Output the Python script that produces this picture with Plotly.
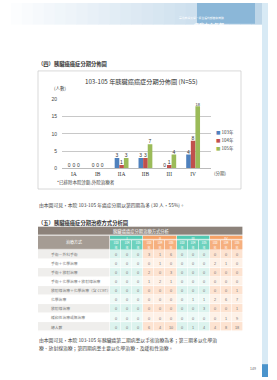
import plotly.graph_objects as go

W, H = 277, 380
def px(x): return x / W
def py(y): return 1 - y / H

FONT = "Noto Sans CJK TC"

# ---------------- chart data ----------------
stages = ["IA", "IB", "IIA", "IIB", "III", "IV"]
series_names = ["103年", "104年", "105年"]
v103 = [0, 0, 3, 3, 0, 4]
v104 = [0, 0, 1, 3, 1, 8]
v105 = [0, 0, 3, 7, 4, 18]
series_colors = ["#4F81BD", "#C0504D", "#9BBB59"]
yticks = [0, 5, 10, 15, 20]

# ---------------- table data ----------------
table_title = "胰臟癌癌症分期治療方式分析"
table_corner = "治療方式"
treatments = ["手術－外科手術", "手術＋化學治療", "手術＋放射治療",
              "手術＋化學治療＋放射線治療", "放射線治療＋化學治療（含 CCRT）",
              "化學治療", "放射線治療", "緩和性治療或無治療", "總人數"]
table_stages = ["I", "II", "III", "IV"]
table_years = ["103<br>年", "104<br>年", "105<br>年"]
row_surgery = [0, 0, 0, 3, 1, 6, 0, 0, 0, 0, 0, 0]
row_surg_chemo = [0, 0, 0, 0, 1, 0, 0, 0, 0, 2, 1, 0]
row_surg_rt = [0, 0, 0, 2, 0, 3, 0, 0, 0, 0, 0, 0]
row_surg_chemo_rt = [0, 0, 0, 1, 2, 1, 0, 0, 0, 0, 0, 0]
row_rt_chemo = [0, 0, 0, 0, 0, 0, 0, 0, 0, 0, 0, 1]
row_chemo = [0, 0, 0, 0, 0, 0, 0, 1, 1, 2, 6, 7]
row_rt = [0, 0, 0, 0, 0, 0, 0, 0, 3, 0, 0, 1]
row_palliative = [0, 0, 0, 0, 0, 0, 0, 0, 0, 0, 1, 9]
row_total = [0, 0, 0, 6, 4, 10, 0, 1, 4, 4, 8, 18]
table_rows = [row_surgery, row_surg_chemo, row_surg_rt, row_surg_chemo_rt,
              row_rt_chemo, row_chemo, row_rt, row_palliative, row_total]

fig = go.Figure()

# ---------------- bars ----------------
for name, vals, col in zip(series_names, [v103, v104, v105], series_colors):
    fig.add_trace(go.Bar(
        x=stages, y=vals, name=name, marker=dict(color=col, line=dict(width=0)),
        text=vals, textposition="outside", cliponaxis=False,
        textfont=dict(size=5, color="#333", family="Liberation Sans"),
        showlegend=False))

# ---------------- table (heatmap cells on their own axes, px units) ----------------
TX0, TX1 = 38, 243
TW = TX1 - TX0
LABW = 72
colw = (TW - LABW) / 12
T_TOP, T_BOT = 227, 336
ROW_H = 9.2
ROW0 = 251

palette = ["#8c827a", "#a59c94", "#52c9b2", "#f5a165", "#6dd2be", "#f6b07f",
           "#dcf3ee", "#fde3d1", "#eefaf7", "#fef1e7", "#efeeec", "#ffffff"]
K = len(palette) - 1
cscale = [[i / K, c] for i, c in enumerate(palette)]
stage_code = [2, 3, 2, 3]
year_code = [4, 5, 4, 5]
tint_a = [6, 7, 6, 7]
tint_b = [8, 9, 8, 9]

def cells(z, text, x0, dx, y0, dy, tcolor, tsize, family=FONT):
    fig.add_trace(go.Heatmap(
        z=z, text=text, texttemplate="%{text}", x0=x0, dx=dx, y0=y0, dy=dy,
        colorscale=cscale, zmin=0, zmax=K, showscale=False, xgap=0.6, ygap=0.6,
        textfont=dict(size=tsize, color=tcolor, family=family),
        hoverinfo="skip", xaxis="x2", yaxis="y2"))

n_rows = len(table_rows)
cells([[0]], [[table_title]], TW / 2, TW, T_TOP + 4.75, 9.5, "white", 4.3)
cells([[1]], [[table_corner]], LABW / 2, LABW, 243.75, 14.5, "white", 4)
cells([stage_code], [table_stages], LABW + 1.5 * colw, 3 * colw, 238.75, 4.5, "white", 3.6,
      "Liberation Sans")
cells([[year_code[c // 3] for c in range(12)]], [[table_years[c % 3] for c in range(12)]],
      LABW + colw / 2, colw, 246, 10, "white", 3.1)
cells([[10] if r % 2 == 0 else [11] for r in range(n_rows)], [[""] for r in range(n_rows)],
      LABW / 2, LABW, ROW0 + ROW_H / 2, ROW_H, "#777", 3.8)
cells([[tint_a[c // 3] if r % 2 == 0 else tint_b[c // 3] for c in range(12)] for r in range(n_rows)],
      [[str(v) for v in row] for row in table_rows],
      LABW + colw / 2, colw, ROW0 + ROW_H / 2, ROW_H, "#777", 3.8, "Liberation Sans")

fig.update_layout(
    width=W, height=H, margin=dict(l=0, r=0, t=0, b=0),
    paper_bgcolor="white", plot_bgcolor="rgba(0,0,0,0)",
    barmode="group", bargap=0.42, bargroupgap=0,
    xaxis=dict(domain=[px(62), px(211)], range=[-0.5, 5.75],
               showgrid=False, zeroline=False, showline=True,
               linecolor="#bbb", linewidth=0.6, ticks="",
               tickfont=dict(size=5.5, family="Liberation Serif", color="#333")),
    yaxis=dict(domain=[py(168), py(98)], range=[0, 20], tickvals=yticks,
               showgrid=True, gridcolor="#c8c8c8", gridwidth=0.6,
               zeroline=False, showline=False, ticks="",
               tickfont=dict(size=5, family="Liberation Sans", color="#444"),
               ticklabelstandoff=4),
    xaxis2=dict(domain=[px(TX0), px(TX1)], range=[0, TW], visible=False, fixedrange=True),
    yaxis2=dict(domain=[py(T_BOT), py(T_TOP)], range=[T_BOT, T_TOP], visible=False, fixedrange=True),
    font=dict(family=FONT),
)

shapes = []
ann = []

# ---------------- page decoration ----------------
n = 24
for i in range(n):
    t = i / (n - 1)
    r = int(255 - t * (255 - 190))
    g = int(255 - t * (255 - 214))
    b = int(255 - t * (255 - 232))
    shapes.append(dict(type="rect", xref="paper", yref="paper",
                       x0=px(i * 262 / n), x1=px((i + 1) * 262 / n + 0.5),
                       y0=py(22), y1=py(0), fillcolor=f"rgb({r},{g},{b})",
                       line=dict(width=0), layer="below"))
shapes.append(dict(type="rect", xref="paper", yref="paper", x0=px(197), x1=px(255),
                   y0=py(21), y1=py(0), fillcolor="#8bb7d8", line=dict(width=0), layer="below"))
shapes.append(dict(type="rect", xref="paper", yref="paper", x0=px(262), x1=px(268),
                   y0=0, y1=1, fillcolor="#d8eaf5", line=dict(width=0), layer="below"))
shapes.append(dict(type="rect", xref="paper", yref="paper", x0=px(262), x1=px(268),
                   y0=py(380), y1=py(367), fillcolor="#4a94cc", line=dict(width=0), layer="below"))
ann.append(dict(text="臺北醫學大學‧衛生福利部雙和醫院", x=px(226), y=py(11), xref="paper", yref="paper",
                showarrow=False, font=dict(size=2.8, color="white", family=FONT)))
ann.append(dict(text="<b>癌症中心年報</b>", x=px(226), y=py(16.5), xref="paper", yref="paper",
                showarrow=False, font=dict(size=5, color="white", family=FONT)))

shapes.append(dict(type="rect", xref="paper", yref="paper", x0=px(38), x1=px(241),
                   y0=py(189), y1=py(69), line=dict(color="#c9c9c9", width=0.7),
                   fillcolor="rgba(0,0,0,0)", layer="below"))

def text(s, x, y, size, color="#333", anchor="left", bold=False, family=FONT):
    ann.append(dict(text=(f"<b>{s}</b>" if bold else s), x=px(x), y=py(y),
                    xref="paper", yref="paper", showarrow=False,
                    xanchor=anchor, yanchor="middle",
                    font=dict(size=size, color=color, family=family)))

text("（四）胰臟癌癌症分期分佈圖", 36, 62, 5.3, "#333", bold=True)
text("103-105 年胰臟癌癌症分期分佈圖 (N=55)", 141, 80, 6.2, "#333", "center")
text("(人數)", 52, 86.5, 4.5, "#444")
text("(分期)", 212, 173, 4.5, "#444")
text("*已排除本院診斷,外院治療者", 55, 182, 4.5, "#444")

for i, (name, col) in enumerate(zip(series_names, series_colors)):
    yy = 132 + i * 8
    text(f"<span style='color:{col}'>■</span> {name}", 214, yy, 4.5, "#444")

text("由本圖可見，本院 103-105 年癌症分期以第四期為多 (30 人，55%)。", 37, 205, 4.8, "#444")
text("（五）胰臟癌癌症分期治療方式分析圖", 36, 224, 5.3, "#333", bold=True)

for r, lab in enumerate(treatments):
    ann.append(dict(text=lab, x=11, y=ROW0 + ROW_H * (r + 0.5), xref="x2", yref="y2",
                    showarrow=False, xanchor="left", yanchor="middle",
                    font=dict(size=3.8, color="#777", family=FONT)))

text("由本圖可見，本院 103-105 年胰臟癌第二期病患以手術治療為多；第三期多以化學治", 37, 342, 4.8, "#444")
text("療、放射線治療；第四期病患主要以化學治療、及緩和性治療。", 37, 350.5, 4.8, "#444")
text("149", 253, 372, 3.5, "#666", "center", family="Liberation Sans")

fig.update_layout(shapes=shapes, annotations=ann)
fig.write_html("out.html")
